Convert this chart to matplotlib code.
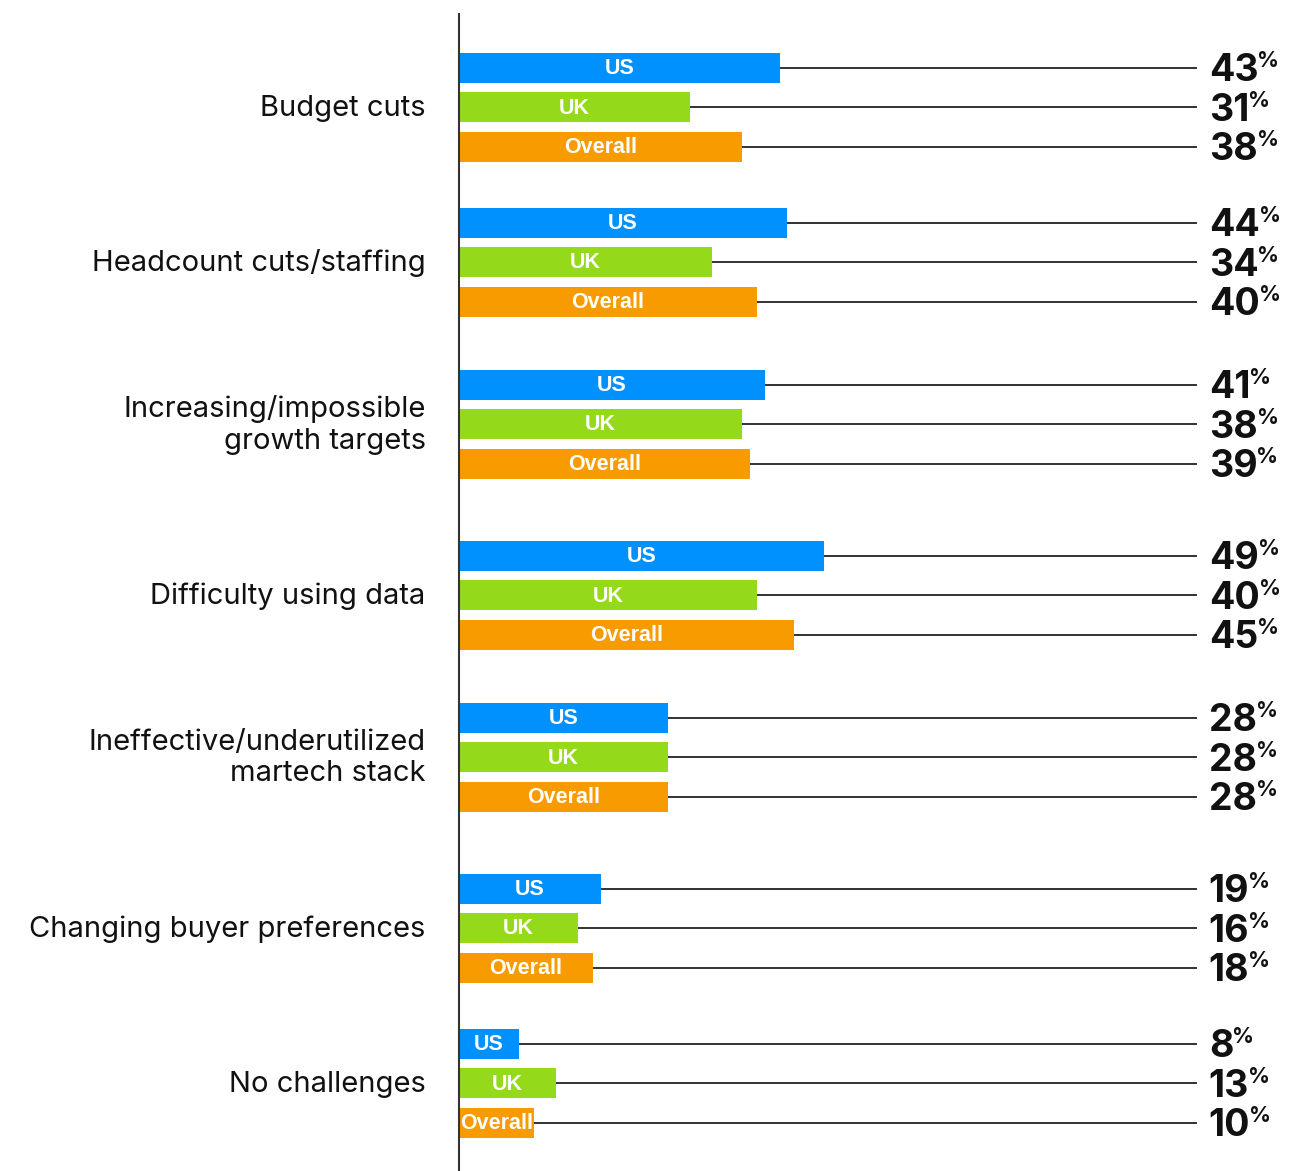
import matplotlib.pyplot as plt

categories = ["Budget cuts", "Headcount cuts/staffing", "Increasing/impossible\ngrowth targets",
              "Difficulty using data", "Ineffective/underutilized\nmartech stack",
              "Changing buyer preferences", "No challenges"]
series = ["US", "UK", "Overall"]
us = [43, 44, 41, 49, 28, 19, 8]
uk = [31, 34, 38, 40, 28, 16, 13]
overall = [38, 40, 39, 45, 28, 18, 10]
colors = ["#0091FF", "#95D91B", "#F89B00"]

W, H = 1301, 1171
fig = plt.figure(figsize=(W / 100, H / 100), dpi=100)
ax = fig.add_axes([459 / W, 0, (1197 - 459) / W, 1 - 14 / H])

# y axis in pixel units; groups with two-line labels get a bit more room
base_gap, extra_above, extra_below = 155, 7, 16
centers = []
y = 107
for i, cat in enumerate(categories):
    if i > 0:
        prev2 = "\n" in categories[i - 1]
        cur2 = "\n" in cat
        y += base_gap + (extra_below if prev2 else 0) + (extra_above if cur2 else 0)
    centers.append(y)

offsets = [-39.5, 0, 39.5]
bar_h = 30
num_dy = -9.8  # points, baseline of the value numbers below bar centre
labels_pct = []
for s, (name, vals, col) in enumerate(zip(series, [us, uk, overall], colors)):
    for i, v in enumerate(vals):
        yy = centers[i] + offsets[s]
        ax.barh(yy, v, height=bar_h, color=col, zorder=2)
        ax.plot([v, 99], [yy, yy], color="#222222", lw=1.3, zorder=1)
        ax.text(v / 2, yy + 1, name, ha="center", va="center", color="white",
                fontsize=15.5, fontweight="bold", family="Liberation Sans", zorder=3)
        t = ax.annotate(str(v), xy=(1, yy), xycoords=("axes fraction", "data"),
                        xytext=(8.5, num_dy), textcoords="offset points",
                        ha="left", va="baseline", fontsize=27, fontweight="bold",
                        family="Inter", color="#111111")
        labels_pct.append(t)

for i, cat in enumerate(categories):
    ax.annotate(cat, xy=(0, centers[i] + 1), xycoords=("axes fraction", "data"),
                xytext=(-24, 0), textcoords="offset points",
                ha="right", va="center", fontsize=21, family="Inter",
                color="#111111", linespacing=1.2)

ax.set_xlim(0, 99)
ax.set_ylim(H, 14)
for sp in ["top", "right", "bottom"]:
    ax.spines[sp].set_visible(False)
ax.spines["left"].set_linewidth(1.5)
ax.spines["left"].set_color("#333333")
ax.set_xticks([])
ax.set_yticks([])

# small superscript percent signs after each value
fig.canvas.draw()
r = fig.canvas.get_renderer()
inv = fig.transFigure.inverted()
for t in labels_pct:
    bb = t.get_window_extent(r)
    base = ax.transData.transform((0, t.xy[1]))[1] + num_dy / 72 * 100
    x0, y0 = inv.transform((bb.x1 - 1, base + 14))
    fig.text(x0, y0, "%", ha="left", va="baseline", fontsize=15.5, fontweight="bold",
             family="Inter", color="#111111")

fig.savefig("out.png", dpi=100)
